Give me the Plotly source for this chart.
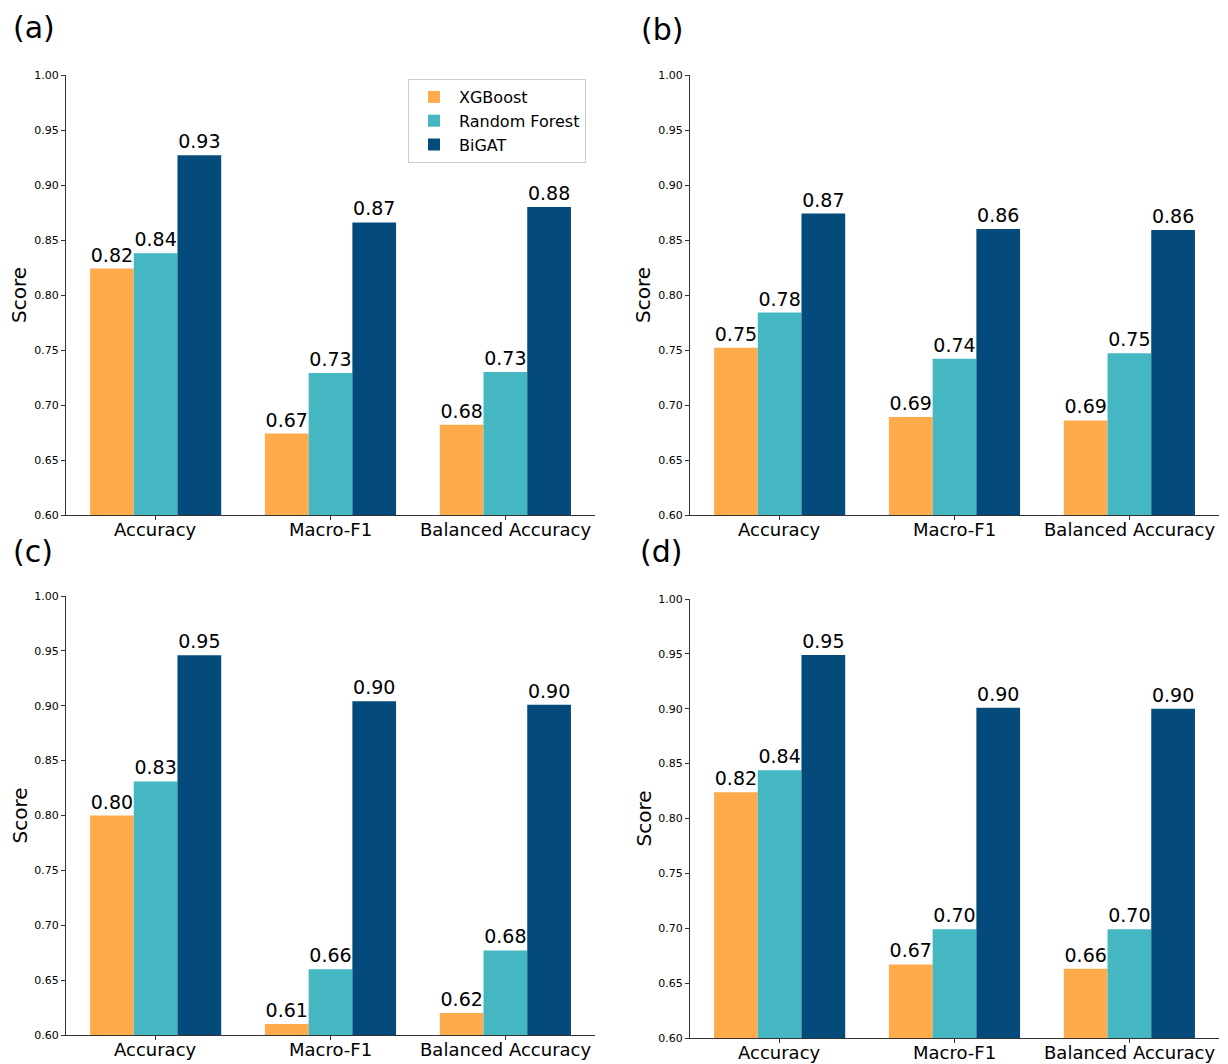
import plotly.graph_objects as go

categories = ["Accuracy", "Macro-F1", "Balanced Accuracy"]
models = ["XGBoost", "Random Forest", "BiGAT"]
colors = ["#FFAB4C", "#45B7C2", "#044B7B"]

# scores (XGBoost, Random Forest, BiGAT per metric)
xgb_a = [0.824, 0.674, 0.682]
rf_a = [0.838, 0.729, 0.730]
bigat_a = [0.927, 0.866, 0.880]

xgb_b = [0.752, 0.689, 0.686]
rf_b = [0.784, 0.742, 0.747]
bigat_b = [0.874, 0.860, 0.859]

xgb_c = [0.800, 0.610, 0.620]
rf_c = [0.831, 0.660, 0.677]
bigat_c = [0.946, 0.904, 0.901]

xgb_d = [0.824, 0.667, 0.663]
rf_d = [0.844, 0.699, 0.699]
bigat_d = [0.949, 0.901, 0.900]

panels = [
    ("(a)", [xgb_a, rf_a, bigat_a]),
    ("(b)", [xgb_b, rf_b, bigat_b]),
    ("(c)", [xgb_c, rf_c, bigat_c]),
    ("(d)", [xgb_d, rf_d, bigat_d]),
]

W, H = 1228, 1064
OFF = 8  # page body margin shifts the figure
# plot boxes in pixels: left, right, top, bottom
boxes = [(66, 595, 75, 515), (690, 1219, 75, 515),
         (66, 595, 596, 1035), (690, 1219, 599, 1038)]
letter_pos = [(34, 27), (662, 29), (33, 551), (661, 551)]


def px(x):
    return (x - OFF) / W


def py(y):
    return 1 - (y - OFF) / H


FONT = "DejaVu Sans"
fig = go.Figure()
annotations = []

for i, (letter, series) in enumerate(panels):
    n = "" if i == 0 else str(i + 1)
    for name, vals, col in zip(models, series, colors):
        fig.add_trace(go.Bar(
            x=categories, y=vals, name=name,
            marker=dict(color=col, line=dict(width=0)),
            texttemplate="%{y:.2f}", textposition="outside",
            textfont=dict(size=19, color="black", family=FONT),
            cliponaxis=False, showlegend=(i == 0),
            xaxis="x" + n, yaxis="y" + n,
        ))
    l, r, t, b = boxes[i]
    fig.update_layout(**{
        "xaxis" + n: dict(
            domain=[px(l), px(r)], anchor="y" + n, type="category",
            range=[-0.5125, 2.5125], showline=True, linecolor="#333",
            linewidth=1.2, ticks="outside", ticklen=4, tickcolor="#333",
            showticklabels=False, showgrid=False, automargin=False,
        ),
        "yaxis" + n: dict(
            domain=[py(b), py(t)], anchor="x" + n,
            range=[0.6, 1.0], dtick=0.05, tick0=0.6, tickformat=".2f",
            showline=True, linecolor="#333", linewidth=1.2,
            ticks="outside", ticklen=4, tickcolor="#333",
            tickfont=dict(size=11, family=FONT, color="black"),
            showgrid=False, zeroline=False, automargin=False,
        ),
    })
    for c in categories:
        annotations.append(dict(
            text=c, x=c, xref="x" + n, y=py(b + 14), yref="paper",
            xanchor="center", yanchor="middle", showarrow=False,
            font=dict(size=18, family=FONT, color="black"),
        ))
    annotations.append(dict(
        text="Score", x=px(l - 47), y=py((t + b) / 2),
        xref="paper", yref="paper", xanchor="center", yanchor="middle",
        showarrow=False, textangle=-90, borderpad=0,
        font=dict(size=20, family=FONT, color="black"),
    ))
    lx, ly = letter_pos[i]
    annotations.append(dict(
        text=letter, x=px(lx), y=py(ly), xref="paper", yref="paper",
        xanchor="center", yanchor="middle", showarrow=False, borderpad=0,
        font=dict(size=30, family=FONT, color="black"),
    ))

fig.update_layout(
    width=W, height=H, barmode="group", bargap=0.25, bargroupgap=0,
    margin=dict(l=0, r=0, t=0, b=0, autoexpand=False),
    paper_bgcolor="white", plot_bgcolor="white",
    font=dict(family=FONT),
    annotations=annotations,
    legend=dict(
        x=px(408), y=py(79), xanchor="left", yanchor="top",
        bgcolor="white", bordercolor="#ccc", borderwidth=1,
        font=dict(size=16, family=FONT, color="black"),
        itemwidth=40, tracegroupgap=0,
    ),
)

fig.write_html("out.html")
